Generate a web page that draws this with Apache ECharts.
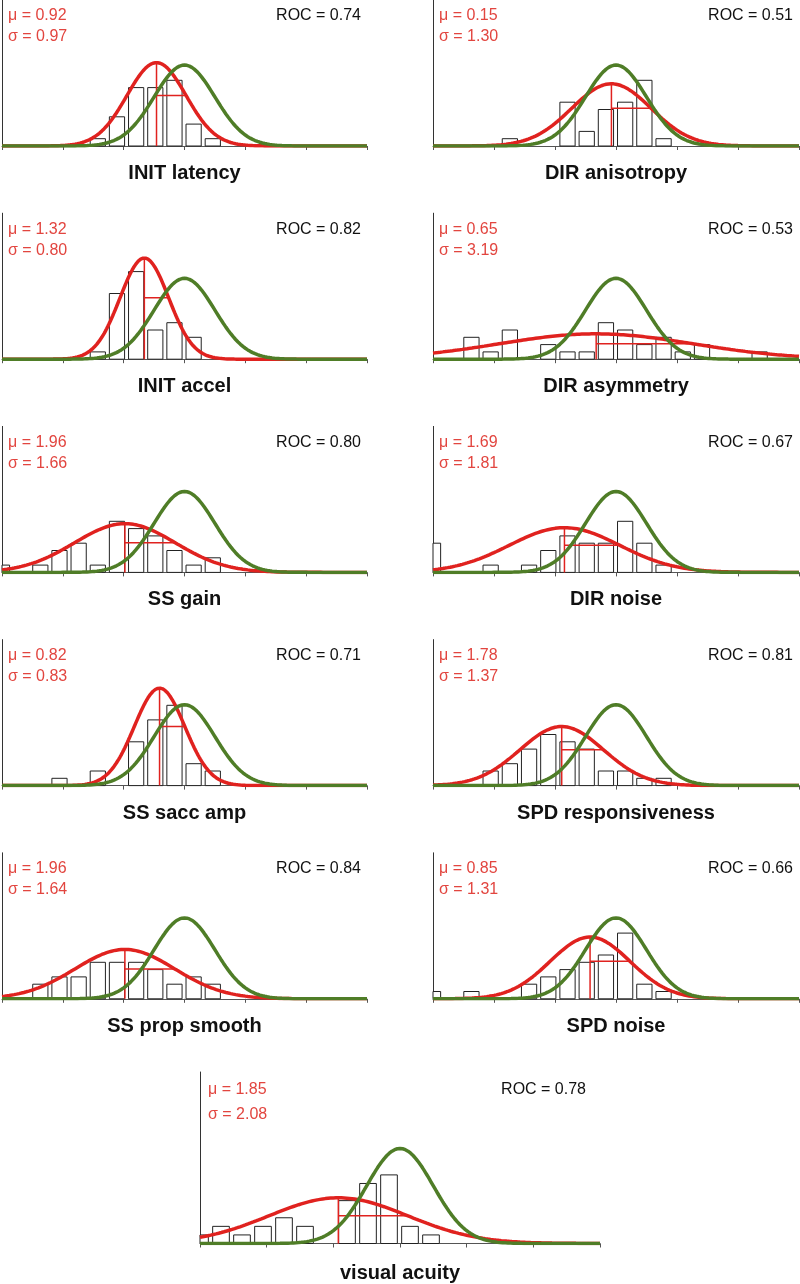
<!DOCTYPE html>
<html>
<head>
<meta charset="utf-8">
<script src="https://cdn.jsdelivr.net/npm/echarts@6/dist/echarts.min.js"></script>
<style>
html, body { margin: 0; padding: 0; background: #fff; }
#echart { width: 800px; height: 1284px; }
</style>
</head>
<body>
<div id="echart"></div>
<script>
// panel data
var names = ['INIT latency', 'DIR anisotropy', 'INIT accel', 'DIR asymmetry', 'SS gain', 'DIR noise',
    'SS sacc amp', 'SPD responsiveness', 'SS prop smooth', 'SPD noise', 'visual acuity'];
var mu = [0.92, 0.15, 1.32, 0.65, 1.96, 1.69, 0.82, 1.78, 1.96, 0.85, 1.85];
var sigma = [0.97, 1.30, 0.80, 3.19, 1.66, 1.81, 0.83, 1.37, 1.64, 1.31, 2.08];
var roc = [0.74, 0.51, 0.82, 0.53, 0.80, 0.67, 0.71, 0.81, 0.84, 0.66, 0.78];
var xTicks = [-6, -4, -2, 0, 2, 4, 6];
var binCenters = [-6.00, -5.37, -4.74, -4.11, -3.48, -2.85, -2.22, -1.59, -0.96, -0.33,
    0.30, 0.93, 1.56, 2.19, 2.82, 3.45, 4.08, 4.71, 5.34];
var counts = [
    [0, 0, 0, 0, 0, 1, 4, 8, 8, 9, 3, 1, 0, 0, 0, 0, 0, 0, 0],
    [0, 0, 0, 0, 1, 0, 0, 6, 2, 5, 6, 9, 1, 0, 0, 0, 0, 0, 0],
    [0, 0, 0, 0, 0, 1, 9, 12, 4, 5, 3, 0, 0, 0, 0, 0, 0, 0, 0],
    [0, 0, 3, 1, 4, 0, 2, 1, 1, 5, 4, 2, 3, 1, 2, 0, 0, 1, 0],
    [1, 0, 1, 3, 4, 1, 7, 6, 5, 3, 1, 2, 0, 0, 0, 0, 0, 0, 0],
    [4, 0, 0, 1, 0, 1, 3, 5, 4, 4, 7, 4, 1, 0, 0, 0, 0, 0, 0],
    [0, 0, 0, 1, 0, 2, 0, 6, 9, 11, 3, 2, 0, 0, 0, 0, 0, 0, 0],
    [0, 0, 0, 2, 3, 5, 7, 6, 5, 2, 2, 1, 1, 0, 0, 0, 0, 0, 0],
    [0, 0, 2, 3, 3, 5, 5, 5, 4, 2, 3, 2, 0, 0, 0, 0, 0, 0, 0],
    [1, 0, 1, 0, 0, 2, 3, 4, 5, 6, 9, 2, 1, 0, 0, 0, 0, 0, 0],
    [1, 2, 1, 2, 3, 2, 0, 5, 7, 8, 2, 1, 0, 0, 0, 0, 0, 0, 0]
];

var RED = '#e0221f';
var RED_TEXT = '#e2453f';
var GREEN = '#4f7d27';
var FONT = '"Liberation Sans", Arial, sans-serif';

function pdf(x, m, s) {
    return Math.exp(-0.5 * Math.pow((x - m) / s, 2)) / (s * Math.sqrt(2 * Math.PI));
}

function curve(m, s) {
    var pts = [];
    for (var x = -6; x <= 6.0001; x += 0.04) {
        pts.push([x, pdf(x, m, s)]);
    }
    return pts;
}

// panel boxes
var boxes = [];
for (var i = 0; i < 10; i++) {
    var col = i % 2, row = Math.floor(i / 2);
    boxes.push({ left: col ? 433 : 2, top: row * 213.2, width: col ? 366 : 365, height: 146, big: false });
}
boxes.push({ left: 200, top: 1072, width: 400, height: 171.5, big: true });

var grid = [], xAxis = [], yAxis = [], series = [], graphic = [];

boxes.forEach(function (b, i) {
    grid.push({ left: b.left, top: b.top, width: b.width, height: b.height });
    xAxis.push({
        gridIndex: i, type: 'value', min: xTicks[0], max: xTicks[xTicks.length - 1], interval: 2,
        axisLine: { onZero: false, lineStyle: { color: '#555', width: 1 } },
        axisTick: { show: true, length: 4, lineStyle: { color: '#555' } },
        axisLabel: { show: false }, splitLine: { show: false }
    });
    yAxis.push({
        gridIndex: i, type: 'value', min: 0, max: 0.72, position: 'left',
        axisLine: { show: true, onZero: false, lineStyle: { color: '#333', width: 1 } },
        axisTick: { show: false }, axisLabel: { show: false }, splitLine: { show: false }
    });
    yAxis.push({ gridIndex: i, type: 'value', min: 0, max: 20, show: false });

    var m = -mu[i], s = sigma[i];
    var peak = pdf(m, m, s), oneSd = pdf(m + s, m, s);
    var bars = [];
    binCenters.forEach(function (c, k) {
        if (counts[i][k] > 0) bars.push([c, counts[i][k]]);
    });

    series.push({
        type: 'custom', xAxisIndex: i, yAxisIndex: 2 * i + 1, z: 1, silent: true,
        data: bars,
        renderItem: function (params, api) {
            var p0 = api.coord([api.value(0) - 0.25, api.value(1)]);
            var p1 = api.coord([api.value(0) + 0.25, 0]);
            var cs = params.coordSys;
            var r = echarts.graphic.clipRectByRect(
                { x: p0[0], y: p0[1], width: p1[0] - p0[0], height: p1[1] - p0[1] },
                { x: cs.x, y: cs.y, width: cs.width, height: cs.height });
            return r && { type: 'rect', shape: r, style: { fill: '#fff', stroke: '#222', lineWidth: 1 } };
        }
    });
    series.push({
        type: 'line', xAxisIndex: i, yAxisIndex: 2 * i, z: 2, silent: true, showSymbol: false,
        lineStyle: { color: RED, width: 1.5 },
        data: [[m, 0], [m, peak]]
    });
    series.push({
        type: 'line', xAxisIndex: i, yAxisIndex: 2 * i, z: 2, silent: true, showSymbol: false,
        lineStyle: { color: RED, width: 1.5 },
        data: [[m, oneSd], [m + s, oneSd]]
    });
    series.push({
        type: 'line', xAxisIndex: i, yAxisIndex: 2 * i, z: 3, silent: true, showSymbol: false,
        lineStyle: { color: RED, width: 3.5 },
        data: curve(m, s)
    });
    series.push({
        type: 'line', xAxisIndex: i, yAxisIndex: 2 * i, z: 4, silent: true, showSymbol: false,
        lineStyle: { color: GREEN, width: 3.5 },
        data: curve(0, 1)
    });

    var dy1 = b.big ? 18 : 16, dy2 = b.big ? 43 : 37;
    graphic.push({
        type: 'text', x: b.left + (b.big ? 8 : 6), y: b.top + dy1,
        style: { text: 'μ = ' + mu[i].toFixed(2), fill: RED_TEXT, font: '16px ' + FONT, verticalAlign: 'middle' }
    });
    graphic.push({
        type: 'text', x: b.left + (b.big ? 8 : 6), y: b.top + dy2,
        style: { text: 'σ = ' + sigma[i].toFixed(2), fill: RED_TEXT, font: '16px ' + FONT, verticalAlign: 'middle' }
    });
    graphic.push({
        type: 'text', x: b.left + b.width - (b.big ? 14 : 6), y: b.top + dy1,
        style: { text: 'ROC = ' + roc[i].toFixed(2), fill: '#111', font: '16px ' + FONT, align: 'right', verticalAlign: 'middle' }
    });
    graphic.push({
        type: 'text', x: b.left + b.width / 2, y: b.top + b.height + (b.big ? 30 : 27.5),
        style: { text: names[i], fill: '#111', font: 'bold 20px ' + FONT, align: 'center', verticalAlign: 'middle' }
    });
});

var myChart = echarts.init(document.getElementById('echart'));
myChart.setOption({
    animation: false,
    backgroundColor: '#fff',
    grid: grid,
    xAxis: xAxis,
    yAxis: yAxis,
    series: series,
    graphic: graphic
});
</script>
</body>
</html>
